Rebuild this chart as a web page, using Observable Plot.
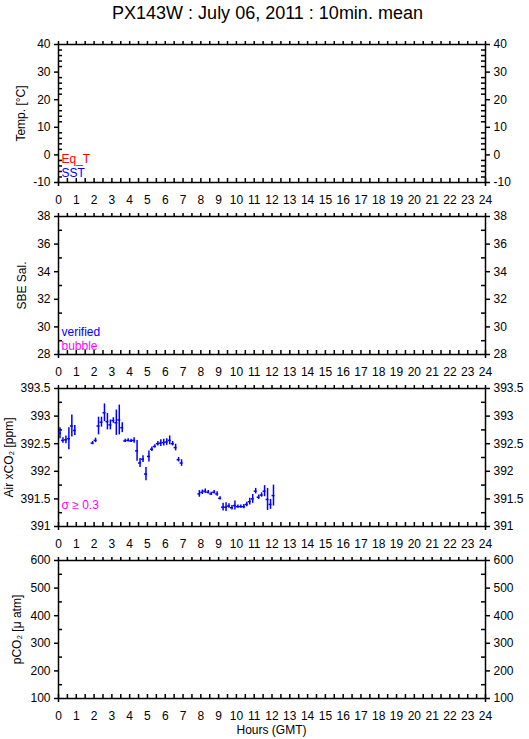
<!DOCTYPE html>
<html><head><meta charset="utf-8">
<script src="https://cdn.jsdelivr.net/npm/d3@7"></script>
<script src="https://cdn.jsdelivr.net/npm/@observablehq/plot@0.6"></script>
<style>
body{margin:0;background:#fff;}
#root{position:relative;width:529px;height:739px;font-family:"Liberation Sans",Arial,sans-serif;overflow:hidden;}
.title{position:absolute;left:0;width:535px;top:4px;text-align:center;font-size:18px;line-height:18px;color:#000;}
.xlabel{position:absolute;left:0;width:543px;top:724px;text-align:center;font-size:12px;line-height:12px;color:#000;}
#root svg{position:absolute;left:0;}
</style></head>
<body>
<div id="root">
  <div class="title">PX143W : July 06, 2011 : 10min. mean</div>
  <div class="xlabel">Hours (GMT)</div>
</div>
<script>
// ---- data ----
const hourTickLabels = [0,1,2,3,4,5,6,7,8,9,10,11,12,13,14,15,16,17,18,19,20,21,22,23,24];
const tempTicks = [-10, 0, 10, 20, 30, 40];
const salTicks = [28, 30, 32, 34, 36, 38];
const co2Ticks = [391, 391.5, 392, 392.5, 393, 393.5];
const pco2Ticks = [100, 200, 300, 400, 500, 600];

// Air xCO2 10-min means: minute of day, value (ppm), std dev
const co2Minutes = [5,15,25,35,45,55,115,125,135,145,155,165,175,185,195,205,215,225,235,245,255,265,275,285,295,305,315,325,335,345,355,365,375,385,395,405,415,475,485,495,505,515,525,535,545,555,565,575,585,595,605,615,625,635,645,655,665,675,685,695,705,715,725];
const co2Values = [392.69,392.56,392.57,392.59,392.82,392.74,392.51,392.56,392.82,392.89,393.06,392.90,392.84,392.92,392.88,392.93,392.79,392.55,392.56,392.55,392.56,392.37,392.15,392.22,391.95,392.27,392.40,392.45,392.50,392.51,392.52,392.53,392.56,392.50,392.43,392.21,392.15,391.59,391.62,391.64,391.62,391.59,391.62,391.59,391.51,391.35,391.35,391.37,391.34,391.38,391.36,391.36,391.36,391.40,391.45,391.50,391.64,391.53,391.57,391.64,391.49,391.40,391.56];
const co2Sd = [0.10,0.05,0.07,0.20,0.20,0.09,0.03,0.04,0.16,0.09,0.16,0.15,0.09,0.05,0.23,0.27,0.09,0.03,0.03,0.03,0.05,0.19,0.08,0.06,0.12,0.10,0.04,0.03,0.04,0.06,0.06,0.06,0.08,0.04,0.06,0.04,0.06,0.06,0.04,0.04,0.03,0.03,0.03,0.04,0.03,0.07,0.08,0.04,0.04,0.08,0.03,0.03,0.04,0.04,0.06,0.08,0.05,0.04,0.04,0.10,0.20,0.09,0.19];

const co2 = co2Minutes.map((m, i) => ({m, v: co2Values[i], sd: co2Sd[i]}));

const BLUE = "#0000ff", RED = "#ff0000", MAGENTA = "#ff00ff";

const panels = [
  {top: 34, domain: [-10, 40], majors: tempTicks, minorStep: 2, label: "Temp. [°C]", labelX: 21,
   legends: [{t: "Eq_T", c: RED, dy: -20}, {t: "SST", c: BLUE, dy: -6}]},
  {top: 206, domain: [28, 38], majors: salTicks, minorStep: 1, label: "SBE Sal.", labelX: 22,
   legends: [{t: "verified", c: BLUE, dy: -19}, {t: "bubble", c: MAGENTA, dy: -5}]},
  {top: 378, domain: [391, 393.5], majors: co2Ticks, minorStep: 0.25, label: "Air xCO₂ [ppm]", labelX: 9,
   legends: [{t: "σ ≥ 0.3", c: MAGENTA, dy: -18}], data: true},
  {top: 550, domain: [100, 600], majors: pco2Ticks, minorStep: 50, label: "pCO₂ [μ atm]", labelX: 17,
   legends: []}
];

const halfHours = d3.range(0, 24.001, 0.5);
const W = 529, H = 172, ML = 58, MR = 44, MT = 10, MB = 24;
const root = document.getElementById("root");

for (const p of panels) {
  const [y0, y1] = p.domain;
  const span = y1 - y0;
  const tx = 24 * 4 / (W - ML - MR);
  const ty = span * 4 / (H - MT - MB);
  const minors = d3.range(y0, y1 + 1e-9, p.minorStep).filter(v => !p.majors.some(m => Math.abs(m - v) < 1e-9));
  const marks = [
    Plot.frame({stroke: "black", strokeWidth: 1.5}),
    Plot.axisX({anchor: "top", ticks: halfHours, tickSize: 4, tickFormat: () => "", label: null, strokeWidth: 1.5}),
    Plot.axisX({anchor: "bottom", ticks: hourTickLabels, tickSize: 0, tickPadding: 13, tickFormat: d => String(d), label: null}),
    Plot.axisX({anchor: "bottom", ticks: [0, 24], tickSize: 4, tickFormat: () => "", label: null, strokeWidth: 1.5}),
    Plot.ruleX(halfHours, {x: d => d, y1: y0, y2: y0 + ty, strokeWidth: 1.5}),
    Plot.axisY({anchor: "left", ticks: p.majors, tickSize: 4, tickPadding: 4, tickFormat: d => String(d), label: null, strokeWidth: 1.5}),
    Plot.axisY({anchor: "right", ticks: p.majors, tickSize: 4, tickPadding: 4, tickFormat: d => String(d), label: null, strokeWidth: 1.5}),
    Plot.ruleY(minors, {y: d => d, x1: 0, x2: tx, strokeWidth: 1.5}),
    Plot.ruleY(minors, {y: d => d, x1: 24 - tx, x2: 24, strokeWidth: 1.5}),
    Plot.text([p.label], {frameAnchor: "left", dx: -(ML - p.labelX), rotate: -90, text: d => d, fontSize: 12, textAnchor: "middle"}),
    ...p.legends.map(l => Plot.text([l.t], {frameAnchor: "bottom-left", dx: 3, dy: l.dy, text: d => d, fill: l.c, textAnchor: "start", fontSize: 12}))
  ];
  if (p.data) {
    marks.push(
      Plot.ruleY(co2, {y: "v", x1: d => (d.m - 5) / 60, x2: d => (d.m + 5) / 60, stroke: BLUE, strokeWidth: 1.5}),
      Plot.ruleX(co2, {x: d => d.m / 60, y1: d => d.v - d.sd, y2: d => d.v + d.sd, stroke: BLUE, strokeWidth: 1.5})
    );
  }
  const svg = Plot.plot({
    width: W, height: H,
    marginLeft: ML, marginRight: MR, marginTop: MT, marginBottom: MB,
    x: {domain: [0, 24], axis: null},
    y: {domain: p.domain, axis: null},
    style: {fontSize: "12px", fontFamily: "'Liberation Sans', Arial, sans-serif", background: "transparent", overflow: "visible"},
    marks
  });
  svg.style.top = p.top + "px";
  root.appendChild(svg);
}
</script>
</body></html>
